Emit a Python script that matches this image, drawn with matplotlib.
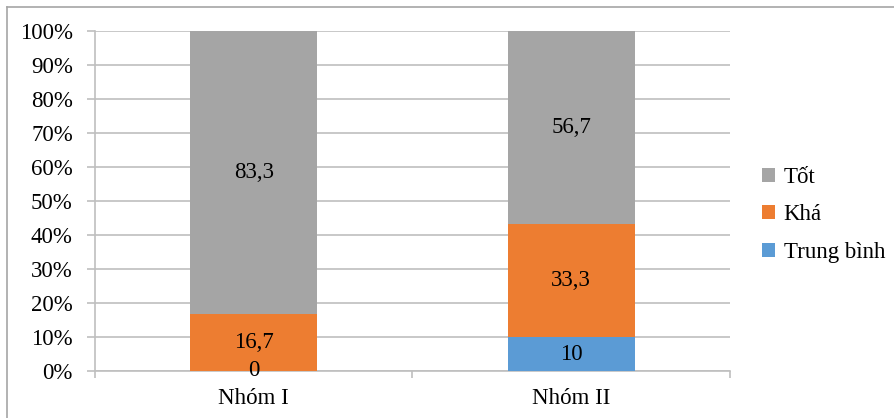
import matplotlib
matplotlib.use("Agg")
import matplotlib.pyplot as plt
from matplotlib.lines import Line2D
from matplotlib.patches import Patch
import numpy as np

plt.rcParams['font.family'] = ['Liberation Serif', 'DejaVu Serif']

groups = ["Nhóm I", "Nhóm II"]
series = ["Trung bình", "Khá", "Tốt"]
trung_binh = [0, 10]
kha = [16.7, 33.3]
tot = [83.3, 56.7]
value_labels = {
    "Trung bình": ["0", "10"],
    "Khá": ["16,7", "33,3"],
    "Tốt": ["83,3", "56,7"],
}
colors = {"Trung bình": "#5B9BD5", "Khá": "#ED7D31", "Tốt": "#A5A5A5"}
y_ticks = [0, 10, 20, 30, 40, 50, 60, 70, 80, 90, 100]
y_tick_labels = [f"{t}%" for t in y_ticks]

W, H = 894, 418
fig = plt.figure(figsize=(W / 100, H / 100), dpi=100)
ax = fig.add_axes([95 / W, 1 - 371 / H, (730 - 95) / W, (371 - 31) / H])

grid_c = "#BFBFBF"
fs = 16.5

x = np.arange(len(groups))
bottom = np.zeros(len(groups))
data = {"Trung bình": trung_binh, "Khá": kha, "Tốt": tot}
for name in series:
    vals = np.array(data[name], dtype=float)
    ax.bar(x, vals, width=0.4, bottom=bottom, color=colors[name], zorder=3)
    for i, v in enumerate(vals):
        ax.text(x[i], bottom[i] + v / 2, value_labels[name][i],
                ha="center", va="center", fontsize=fs, color="black", zorder=4)
    bottom += vals

ax.set_xlim(-0.5, 1.5)
ax.set_ylim(0, 100)
ax.set_yticks(y_ticks)
ax.set_yticklabels(y_tick_labels, fontsize=fs)
ax.yaxis.grid(True, color=grid_c, linewidth=1.2, zorder=0)
ax.set_axisbelow(True)

ax.set_xticks(x)
ax.set_xticklabels(groups, fontsize=fs)
ax.set_xticks([-0.5, 0.5, 1.5], minor=True)
ax.tick_params(axis="x", which="major", length=0, pad=12)
ax.tick_params(axis="x", which="minor", length=5, color=grid_c, width=1.2, direction="out")
ax.tick_params(axis="y", length=6, color=grid_c, width=1.2, direction="out", pad=10)

for s in ["top", "right"]:
    ax.spines[s].set_visible(False)
for s in ["left", "bottom"]:
    ax.spines[s].set_color(grid_c)
    ax.spines[s].set_linewidth(1.2)

handles = [Patch(facecolor=colors[n], edgecolor="none") for n in ["Tốt", "Khá", "Trung bình"]]
fig.legend(handles, ["Tốt", "Khá", "Trung bình"], loc="center left",
           bbox_to_anchor=(762 / W, 1 - 215 / H), frameon=False, fontsize=fs,
           handlelength=0.55, handleheight=0.55, handletextpad=0.4, labelspacing=0.72,
           borderaxespad=0, borderpad=0)

# outer chart frame (left and top edges)
fig.add_artist(Line2D([7 / W, 7 / W], [0, 1 - 7 / H], transform=fig.transFigure,
                      color="#A6A6A6", linewidth=1.2))
fig.add_artist(Line2D([7 / W, 1], [1 - 7 / H, 1 - 7 / H], transform=fig.transFigure,
                      color="#A6A6A6", linewidth=1.2))

fig.savefig("out.png", dpi=100, facecolor="white")
